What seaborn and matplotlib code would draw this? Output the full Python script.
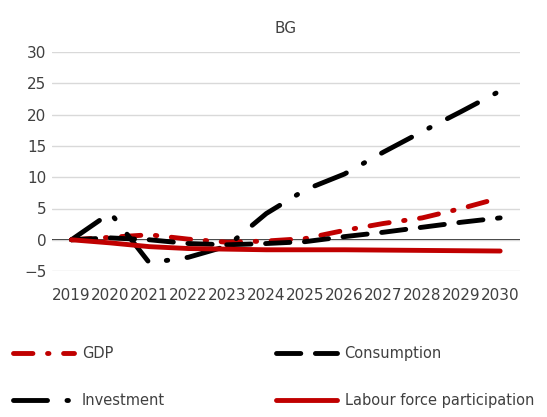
import matplotlib
matplotlib.use("Agg")
import matplotlib.pyplot as plt
import seaborn as sns
import pandas as pd

years = list(range(2019, 2031))
gdp = [0, 0.4, 0.8, 0.1, -0.4, -0.2, 0.2, 1.5, 2.6, 3.5, 5.0, 6.7]
consumption = [0, 0.3, 0.0, -0.6, -0.8, -0.6, -0.3, 0.5, 1.2, 2.0, 2.8, 3.5]
investment = [0, 4.3, -3.7, -2.8, -1.0, 4.2, 8.0, 10.5, 14.0, 17.3, 20.5, 23.8]
labour = [0, -0.5, -1.1, -1.4, -1.5, -1.6, -1.6, -1.6, -1.65, -1.7, -1.75, -1.8]

df = pd.DataFrame({"year": years, "GDP": gdp, "Consumption": consumption,
                   "Investment": investment, "Labour force participation": labour})

sns.set_style("white")
plt.rcParams['font.family'] = ['DejaVu Sans']
fig = plt.figure(figsize=(5.47, 4.17), dpi=100)
ax = fig.add_axes([0.095, 0.35, 0.855, 0.525])

styles = {
    "GDP": dict(color="#c00000", dashes=(4, 3, 0.3, 3)),
    "Consumption": dict(color="black", dashes=(5, 3)),
    "Investment": dict(color="black", dashes=(7, 4, 0.3, 4)),
    "Labour force participation": dict(color="#c00000", dashes=()),
}
handles = {}
for name, st in styles.items():
    line, = ax.plot(df["year"], df[name], color=st["color"], lw=3.5, label=name,
                    solid_capstyle="round", dash_capstyle="round")
    if st["dashes"]:
        line.set_dashes(st["dashes"])
    handles[name] = line

ax.set_ylim(-5, 30)
ax.set_yticks(range(-5, 31, 5))
ax.set_xlim(2018.5, 2030.5)
ax.set_xticks(years)
ax.set_xticklabels([str(y) for y in years])
ax.axhline(0, color="black", lw=1.2, zorder=0)
ax.grid(axis="y", color="#d9d9d9", lw=1)
for s in ax.spines.values():
    s.set_visible(False)
ax.tick_params(axis="both", length=0, labelsize=11, colors="#404040", pad=4)
ax.tick_params(axis="x", pad=12)
ax.set_title("BG", fontsize=11, color="#404040", pad=14)
order = ["GDP", "Investment", "Consumption", "Labour force participation"]
fig.legend([handles[n] for n in order], order, loc="lower left",
           bbox_to_anchor=(0.0, -0.01, 1.0, 0.25), ncol=2,
           frameon=False, fontsize=10.5, handlelength=4.2, mode="expand",
           labelspacing=2.2, labelcolor="#404040", handletextpad=0.5)
fig.savefig("out.png", dpi=100)
